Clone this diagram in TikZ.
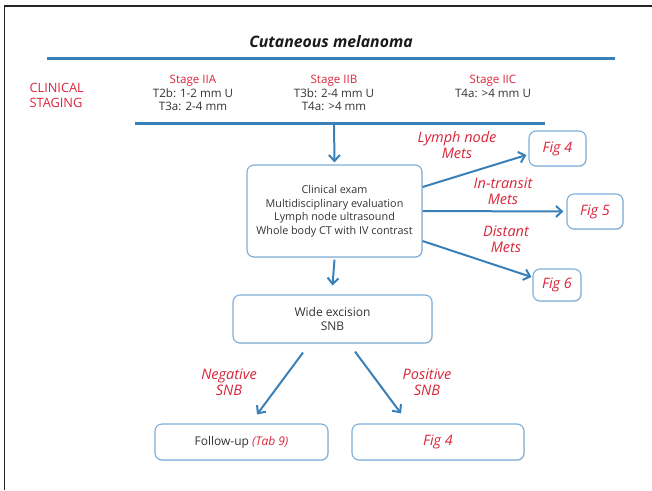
\documentclass[tikz,border=0pt]{standalone}
\usepackage{fontspec}
\setmainfont{Open Sans}
\usetikzlibrary{arrows.meta,shadows}
\definecolor{lineblue}{HTML}{3A80B8}
\definecolor{boxblue}{HTML}{7EAED8}
\definecolor{redtxt}{HTML}{D8263A}
\definecolor{darktxt}{HTML}{333333}
\tikzset{
  box/.style={draw=boxblue, line width=1.1pt, rounded corners=7pt, fill=white,
    drop shadow={opacity=0.18, shadow xshift=0.8pt, shadow yshift=-1pt},
    align=center, text=darktxt, font=\fontsize{10.8}{13.5}\selectfont, inner sep=2pt},
  bigbox/.style={box, font=\fontsize{12}{14}\selectfont},
  figbox/.style={box, text=redtxt, font=\fontsize{14.4}{16}\selectfont\itshape},
  arr/.style={draw=lineblue, line width=2pt, -{Straight Barb[length=6pt,width=11pt,line width=2pt]}},
  bar/.style={draw=lineblue, line width=3pt},
  redlab/.style={text=redtxt, align=center, font=\fontsize{14.5}{16}\selectfont\itshape},
  stage/.style={align=center, text=darktxt, font=\fontsize{11.6}{13.2}\selectfont},
}
\begin{document}
\begin{tikzpicture}[x=1pt,y=-1pt]
\useasboundingbox (0,0) rectangle (652,490);
% frame
\draw[line width=1.6pt, color=black!85] (4.5,490) -- (4.5,6) -- (652,6);
% title
\node[font=\fontsize{15.8}{18}\selectfont\bfseries\itshape, text=black!90] (title) at (331,42) {Cutaneous melanoma};
\coordinate (l1a) at (47,58);
\coordinate (l1b) at (615,58);
\draw[bar] (l1a) -- (l1b);
\node[text=redtxt, align=left, anchor=west, font=\fontsize{12.8}{15}\selectfont] (clin) at (26,95) {CLINICAL\\STAGING};
\node[stage, anchor=north] (s2a) at (193,72) {\textcolor{redtxt}{Stage IIA}\\T2b: 1-2 mm U\\T3a: 2-4 mm};
\node[stage, anchor=north] (s2b) at (334,72) {\textcolor{redtxt}{Stage IIB}\\T3b: 2-4 mm U\\T4a: >4 mm};
\node[stage, anchor=north] (s2c) at (493,72) {\textcolor{redtxt}{Stage IIC}\\T4a: >4 mm U};
\coordinate (l2a) at (135,123);
\coordinate (l2b) at (545,123);
\coordinate (l2m) at (334,124);
\draw[bar] (l2a) -- (l2b);
% boxes
\node[box, minimum width=175pt, minimum height=92pt] (main) at (334.5,211)
  {Clinical exam\\Multidisciplinary evaluation\\Lymph node ultrasound\\Whole body CT with IV contrast};
\node[bigbox, minimum width=199pt, minimum height=48pt] (wide) at (332.5,319) {Wide excision\\SNB};
\node[figbox, minimum width=57pt, minimum height=35pt] (fig4a) at (557.5,148.5) {Fig 4};
\node[figbox, minimum width=56pt, minimum height=35pt] (fig5) at (595,211.5) {Fig 5};
\node[figbox, minimum width=48pt, minimum height=32pt] (fig6) at (557,285) {Fig 6};
\node[bigbox, minimum width=173pt, minimum height=36pt] (follow) at (241.5,442)
  {Follow-up \textcolor{redtxt}{\itshape(Tab 9)}};
\node[figbox, minimum width=172pt, minimum height=36pt] (fig4b) at (438,442) {Fig 4};
% arrows
\draw[arr] (l2m) -- ([yshift=2pt]main.north);
\draw[arr] ([yshift=-2pt]main.south) -- ([yshift=9pt]wide.north);
\draw[arr] ([yshift=24pt]main.east) -- ([xshift=-2pt,yshift=-6.5pt]fig4a.west);
\draw[arr] (main.east) -- ([xshift=-3pt]fig5.west);
\draw[arr] ([yshift=-30pt]main.east) -- ([xshift=-1pt,yshift=8pt]fig6.west);
\draw[arr] ([xshift=-29.5pt,yshift=-9pt]wide.south) -- ([xshift=15.5pt,yshift=9pt]follow.north);
\draw[arr] ([xshift=22.5pt,yshift=-8pt]wide.south) -- ([xshift=-37pt,yshift=10pt]fig4b.north);
% labels
\node[redlab] (lab1) at (457,145) {Lymph node\\Mets};
\node[redlab] (lab2) at (503,191) {In-transit\\Mets};
\node[redlab] (lab3) at (506,239) {Distant\\Mets};
\node[redlab] (lab4) at (229,382) {Negative\\SNB};
\node[redlab] (lab5) at (427,382) {Positive\\SNB};
\end{tikzpicture}
\end{document}
